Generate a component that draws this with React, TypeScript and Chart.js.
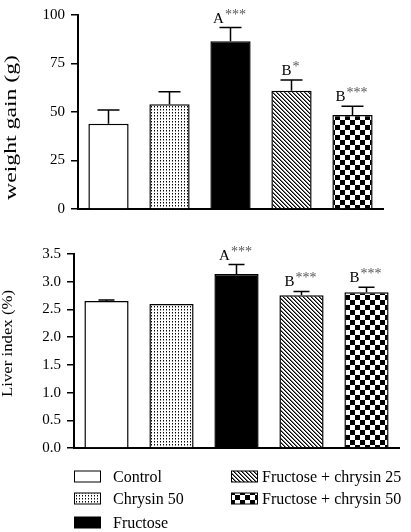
import React, { useEffect, useRef } from 'react';
import { Chart, registerables } from 'chart.js';
Chart.register(...registerables);

const categories = ['Control', 'Chrysin 50', 'Fructose', 'Fructose + chrysin 25', 'Fructose + chrysin 50'];
const weightGain = [44, 54, 86.5, 61, 48.5];
const weightGainErr = [7, 6.5, 7, 5.5, 4.5];
const weightTicks = [0, 25, 50, 75, 100];
const liverIndex = [2.65, 2.6, 3.14, 2.755, 2.81];
const liverIndexErr = [0.02, 0, 0.17, 0.07, 0.09];
const liverTicks = [0, 0.5, 1.0, 1.5, 2.0, 2.5, 3.0, 3.5];
const groupLetters = ['', '', 'A', 'B', 'B'];
const weightStars = ['', '', '***', '*', '***'];
const liverStars = ['', '', '***', '***', '***'];
const fillKinds = ['white', 'dots', 'black', 'diag', 'check'];

const SERIF = '"Liberation Serif", "Times New Roman", serif';

function makeFill(kind: string): any {
  if (kind === 'white') return '#ffffff';
  if (kind === 'black') return '#000000';
  const c = document.createElement('canvas');
  const ctx = c.getContext('2d')!;
  if (kind === 'dots') {
    c.width = 3; c.height = 3;
    ctx.fillStyle = '#fff'; ctx.fillRect(0, 0, 3, 3);
    ctx.fillStyle = '#000'; ctx.fillRect(1, 1, 1, 1);
    ctx.fillStyle = '#888'; ctx.fillRect(1, 2, 1, 1);
  } else if (kind === 'diag') {
    c.width = 4; c.height = 4;
    ctx.fillStyle = '#fff'; ctx.fillRect(0, 0, 4, 4);
    ctx.fillStyle = '#000';
    for (let i = 0; i < 4; i++) ctx.fillRect(i, i, 1, 1);
    ctx.fillStyle = '#777';
    for (let i = 0; i < 4; i++) ctx.fillRect((i + 1) % 4, i, 1, 1);
  } else if (kind === 'check') {
    c.width = 10; c.height = 10;
    ctx.fillStyle = '#fff'; ctx.fillRect(0, 0, 10, 10);
    ctx.fillStyle = '#000';
    ctx.fillRect(0, 0, 5, 5); ctx.fillRect(5, 5, 5, 5);
  }
  return ctx.createPattern(c, 'repeat');
}

function drawStretchedTitle(ctx: CanvasRenderingContext2D, text: string, cx: number, cy: number, size: number, len: number) {
  ctx.save();
  ctx.font = `${size}px ${SERIF}`;
  const w = ctx.measureText(text).width;
  ctx.translate(cx, cy);
  ctx.rotate(-Math.PI / 2);
  ctx.scale(len / w, 1);
  ctx.fillStyle = '#000';
  ctx.textAlign = 'center';
  ctx.textBaseline = 'middle';
  ctx.fillText(text, 0, 0);
  ctx.restore();
}

function makeConfig(opts: {
  values: number[]; errs: number[]; ticks: number[]; stars: string[];
  min: number; max: number; fmt: (v: number) => string;
  axisWidth: number; xHeight: number; padTop: number; padRight: number;
  barPct: number; capHalf: number; title: string; titleX: number; titleY: number; titleLen: number; titleSize: number;
  legend: boolean;
}) {
  const fills = fillKinds.map(makeFill);
  const plugin = {
    id: 'custom',
    afterDatasetsDraw(chart: any) {
      const ctx: CanvasRenderingContext2D = chart.ctx;
      const meta = chart.getDatasetMeta(0);
      const ys = chart.scales.y;
      meta.data.forEach((bar: any, i: number) => {
        const top = ys.getPixelForValue(opts.values[i]);
        const et = ys.getPixelForValue(opts.values[i] + opts.errs[i]);
        ctx.save();
        ctx.strokeStyle = '#000';
        ctx.lineWidth = 1.5;
        if (opts.errs[i] > 0) {
          ctx.beginPath();
          ctx.moveTo(bar.x, top);
          ctx.lineTo(bar.x, et);
          ctx.moveTo(bar.x - opts.capHalf, et);
          ctx.lineTo(bar.x + opts.capHalf, et);
          ctx.stroke();
        }
        if (groupLetters[i]) {
          ctx.font = `15px ${SERIF}`;
          const wl = ctx.measureText(groupLetters[i]).width;
          ctx.font = `14px ${SERIF}`;
          const ws = ctx.measureText(opts.stars[i]).width;
          const x0 = bar.x - (wl + ws + 1) / 2 - 1;
          const base = et - 5;
          ctx.textBaseline = 'alphabetic';
          ctx.textAlign = 'left';
          ctx.fillStyle = '#000';
          ctx.font = `15px ${SERIF}`;
          ctx.fillText(groupLetters[i], x0, base);
          ctx.fillStyle = '#555';
          ctx.font = `14px ${SERIF}`;
          ctx.fillText(opts.stars[i], x0 + wl + 1, base - 4);
        }
        ctx.restore();
      });
    },
    afterDraw(chart: any) {
      const ctx: CanvasRenderingContext2D = chart.ctx;
      drawStretchedTitle(ctx, opts.title, opts.titleX, opts.titleY, opts.titleSize, opts.titleLen);
      if (opts.legend) {
        const rows = [246.5, 268.5, 292.5];
        const items = [
          { i: 0, x: 74, tx: 113, r: 0 },
          { i: 1, x: 74, tx: 113, r: 1 },
          { i: 2, x: 74, tx: 113, r: 2 },
          { i: 3, x: 231, tx: 262, r: 0 },
          { i: 4, x: 231, tx: 262, r: 1 },
        ];
        ctx.save();
        items.forEach((it) => {
          const cy = rows[it.r];
          ctx.fillStyle = fills[it.i];
          ctx.fillRect(it.x, cy - 5.5, 27, 11);
          ctx.strokeStyle = '#000';
          ctx.lineWidth = 1;
          ctx.strokeRect(it.x + 0.5, cy - 5.5, 26, 11);
          ctx.fillStyle = '#000';
          ctx.font = `16px ${SERIF}`;
          ctx.textAlign = 'left';
          ctx.textBaseline = 'alphabetic';
          ctx.fillText(categories[it.i], it.tx, cy + 5.5);
        });
        ctx.restore();
      }
    },
  };

  return {
    type: 'bar' as const,
    data: {
      labels: categories,
      datasets: [{
        data: opts.values,
        backgroundColor: fills,
        borderColor: '#000',
        borderWidth: 1.5,
        barPercentage: opts.barPct,
        categoryPercentage: 1,
      }],
    },
    options: {
      responsive: false,
      animation: false as const,
      devicePixelRatio: 1,
      layout: { padding: { top: opts.padTop, right: opts.padRight, left: 0, bottom: 0 } },
      plugins: { legend: { display: false }, tooltip: { enabled: false }, title: { display: false } },
      scales: {
        x: {
          grid: { display: false, drawTicks: false },
          border: { display: true, color: '#000', width: 2 },
          ticks: { display: false },
          afterFit: (s: any) => { s.height = opts.xHeight; },
        },
        y: {
          min: opts.min,
          max: opts.max,
          afterBuildTicks: (s: any) => { s.ticks = opts.ticks.map((v) => ({ value: v })); },
          ticks: {
            color: '#000',
            padding: 6,
            font: { family: SERIF, size: 15 },
            callback: (v: any) => opts.fmt(Number(v)),
          },
          grid: { drawOnChartArea: false, drawTicks: true, tickLength: 7, color: '#000', lineWidth: 1.5 },
          border: { display: true, color: '#000', width: 2 },
          afterFit: (s: any) => { s.width = opts.axisWidth; },
        },
      },
    },
    plugins: [plugin],
  };
}

export default function App() {
  const topRef = useRef<HTMLCanvasElement>(null);
  const botRef = useRef<HTMLCanvasElement>(null);

  useEffect(() => {
    const c1 = new Chart(topRef.current!, makeConfig({
      values: weightGain, errs: weightGainErr, ticks: weightTicks, stars: weightStars,
      min: 0, max: 100, fmt: (v) => String(v),
      axisWidth: 78, xHeight: 21, padTop: 9, padRight: 28,
      barPct: 0.66, capHalf: 11, title: 'weight gain (g)', titleX: 11.5, titleY: 127.5, titleLen: 145, titleSize: 17,
      legend: false,
    }) as any);
    const c2 = new Chart(botRef.current!, makeConfig({
      values: liverIndex, errs: liverIndexErr, ticks: liverTicks, stars: liverStars,
      min: 0, max: 3.5, fmt: (v) => v.toFixed(1),
      axisWidth: 74, xHeight: 84, padTop: 24, padRight: 12,
      barPct: 0.68, capHalf: 8, title: 'Liver index (%)', titleX: 8.5, titleY: 113.5, titleLen: 107, titleSize: 15,
      legend: true,
    }) as any);
    return () => { c1.destroy(); c2.destroy(); };
  }, []);

  return (
    <div style={{ position: 'absolute', left: 0, top: 0, width: 411, height: 532, background: '#fff', overflow: 'hidden' }}>
      <canvas ref={topRef} width={411} height={230} style={{ position: 'absolute', left: 0, top: 0, width: 411, height: 230 }} />
      <canvas ref={botRef} width={411} height={302} style={{ position: 'absolute', left: 0, top: 230, width: 411, height: 302 }} />
    </div>
  );
}
